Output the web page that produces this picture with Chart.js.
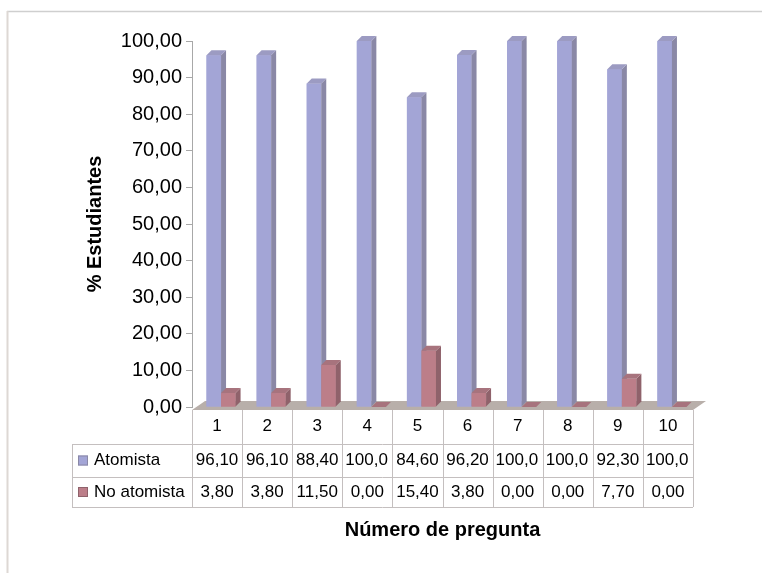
<!DOCTYPE html>
<html>
<head>
<meta charset="utf-8">
<script src="https://cdn.jsdelivr.net/npm/chart.js@4.4.0/dist/chart.umd.min.js"></script>
<style>
  html, body { margin: 0; padding: 0; background: #fff; }
  #chart { display: block; }
</style>
</head>
<body>
<canvas id="chart" width="762" height="573"></canvas>
<script>
const preguntas = ['1', '2', '3', '4', '5', '6', '7', '8', '9', '10'];
const series = ['Atomista', 'No atomista'];
const atomista = [96.1, 96.1, 88.4, 100, 84.6, 96.2, 100, 100, 92.3, 100];
const noAtomista = [3.8, 3.8, 11.5, 0, 15.4, 3.8, 0, 0, 7.7, 0];

const FONT = "'Liberation Sans', Arial, sans-serif";
const fmt = (v) => v.toFixed(2).replace('.', ',');

// front, side, top colours of each series
const colors = [
  { front: '#a3a5d6', side: '#8a88a6', top: '#9c9bc2' },
  { front: '#bc7e89', side: '#8f626b', top: '#a7737d' },
];
const DEPTH = 5;

const bars3d = {
  id: 'bars3d',
  beforeDatasetsDraw(chart) {
    const { ctx, chartArea: { left, right, bottom } } = chart;
    // floor
    ctx.save();
    ctx.fillStyle = '#b8afaa';
    ctx.beginPath();
    ctx.moveTo(left, bottom + 3);
    ctx.lineTo(left + 13, bottom - 6);
    ctx.lineTo(right + 13, bottom - 6);
    ctx.lineTo(right, bottom + 3);
    ctx.closePath();
    ctx.fill();
    ctx.restore();
    ctx.save();
    ctx.translate(4, 0);
  },
  afterDatasetsDraw(chart) {
    const { ctx } = chart;
    // redraw in series order so the pink bar sits in front of the blue side face
    chart.data.datasets.forEach((ds, d) => {
      const c = colors[d];
      chart.getDatasetMeta(d).data.forEach((bar) => {
        const xl = bar.x - bar.width / 2;
        const xr = bar.x + bar.width / 2;
        const y = bar.y;
        const base = bar.base;
        ctx.fillStyle = c.front;
        ctx.fillRect(xl, y, xr - xl, base - y);
        ctx.fillStyle = c.side;
        ctx.beginPath();
        ctx.moveTo(xr, y);
        ctx.lineTo(xr + DEPTH, y - DEPTH);
        ctx.lineTo(xr + DEPTH, base - DEPTH);
        ctx.lineTo(xr, base);
        ctx.closePath();
        ctx.fill();
        ctx.fillStyle = c.top;
        ctx.beginPath();
        ctx.moveTo(xl, y);
        ctx.lineTo(xl + DEPTH, y - DEPTH);
        ctx.lineTo(xr + DEPTH, y - DEPTH);
        ctx.lineTo(xr, y);
        ctx.closePath();
        ctx.fill();
      });
    });
    ctx.restore();
  },
};

const tabla = {
  id: 'tabla',
  beforeDraw(chart) {
    const { ctx, width, height } = chart;
    ctx.save();
    ctx.strokeStyle = '#cfcfcf';
    ctx.lineWidth = 1.5;
    ctx.beginPath();
    ctx.moveTo(7, 11.5);
    ctx.lineTo(width, 11.5);
    ctx.stroke();
    ctx.strokeStyle = '#ddd8d4';
    ctx.lineWidth = 2;
    ctx.beginPath();
    ctx.moveTo(7.5, 11);
    ctx.lineTo(7.5, height);
    ctx.stroke();
    ctx.restore();
  },
  afterDraw(chart) {
    const { ctx, chartArea: { left, right, bottom } } = chart;
    const colW = (right - left) / preguntas.length;
    const r0 = bottom + 3;
    const r1 = bottom + 37;
    const r2 = bottom + 70;
    const r3 = bottom + 100;
    const headLeft = 72;

    ctx.save();
    ctx.strokeStyle = '#c4bfbf';
    ctx.lineWidth = 1;
    ctx.beginPath();
    for (let i = 0; i <= preguntas.length; i++) {
      const xx = Math.round(left + i * colW) + 0.5;
      ctx.moveTo(xx, r0);
      ctx.lineTo(xx, r3);
    }
    [r1, r2, r3].forEach((yy) => {
      ctx.moveTo(headLeft, yy + 0.5);
      ctx.lineTo(right, yy + 0.5);
    });
    ctx.moveTo(headLeft + 0.5, r1);
    ctx.lineTo(headLeft + 0.5, r3);
    ctx.stroke();

    ctx.font = '17px ' + FONT;
    ctx.fillStyle = '#000';
    ctx.textBaseline = 'middle';

    preguntas.forEach((p, i) => {
      ctx.textAlign = 'center';
      ctx.fillText(p, left + (i + 0.5) * colW, (r0 + r1) / 2 - 1);
    });

    const rows = [atomista, noAtomista];
    const rowY = [(r1 + r2) / 2, (r2 + r3) / 2];
    rows.forEach((vals, s) => {
      // legend key + name
      ctx.fillStyle = colors[s].front;
      ctx.fillRect(78, rowY[s] - 5, 10, 10);
      ctx.strokeStyle = colors[s].side;
      ctx.strokeRect(78.5, rowY[s] - 4.5, 9, 9);
      ctx.fillStyle = '#000';
      ctx.textAlign = 'left';
      ctx.fillText(series[s], 94, rowY[s]);

      vals.forEach((v, i) => {
        let txt = fmt(v);
        const cl = left + i * colW;
        // cells that are too narrow lose their last characters, as in the original
        if (ctx.measureText(txt).width > colW - 4) {
          while (txt.length > 1 && ctx.measureText(txt).width > colW - 6) txt = txt.slice(0, -1);
          ctx.textAlign = 'left';
          ctx.fillText(txt, cl + 3, rowY[s]);
        } else {
          ctx.textAlign = 'center';
          ctx.fillText(txt, cl + colW / 2, rowY[s]);
        }
      });
    });

    ctx.font = 'bold 20px ' + FONT;
    ctx.textAlign = 'center';
    ctx.fillText('Número de pregunta', (left + right) / 2, bottom + 123);
    ctx.restore();
  },
};

const config = {
  type: 'bar',
  data: {
    labels: preguntas,
    datasets: [
      {
        label: series[0],
        data: atomista,
        backgroundColor: colors[0].front,
        clip: false,
      },
      {
        label: series[1],
        data: noAtomista,
        backgroundColor: colors[1].front,
        clip: false,
      },
    ],
  },
  options: {
    responsive: false,
    animation: false,
    devicePixelRatio: 1,
    layout: {
      padding: { left: 83, right: 69, top: 41, bottom: 166 },
    },
    datasets: {
      bar: {
        categoryPercentage: 0.58,
        barPercentage: 1,
      },
    },
    scales: {
      x: {
        display: false,
      },
      y: {
        min: 0,
        max: 100,
        afterFit(scale) {
          scale.width = 109;
        },
        ticks: {
          stepSize: 10,
          padding: 4,
          color: '#000',
          font: { family: FONT, size: 20 },
          callback: (v) => fmt(v),
        },
        grid: {
          drawOnChartArea: false,
          drawTicks: true,
          tickLength: 6,
          color: '#a8a8a8',
        },
        border: { display: true, color: '#a8a8a8' },
        title: {
          display: true,
          text: '% Estudiantes',
          color: '#000',
          padding: 0,
          font: { family: FONT, size: 20, weight: 'bold' },
        },
      },
    },
    plugins: {
      legend: { display: false },
      tooltip: { enabled: false },
    },
  },
  plugins: [bars3d, tabla],
};

new Chart(document.getElementById('chart'), config);
</script>
</body>
</html>
